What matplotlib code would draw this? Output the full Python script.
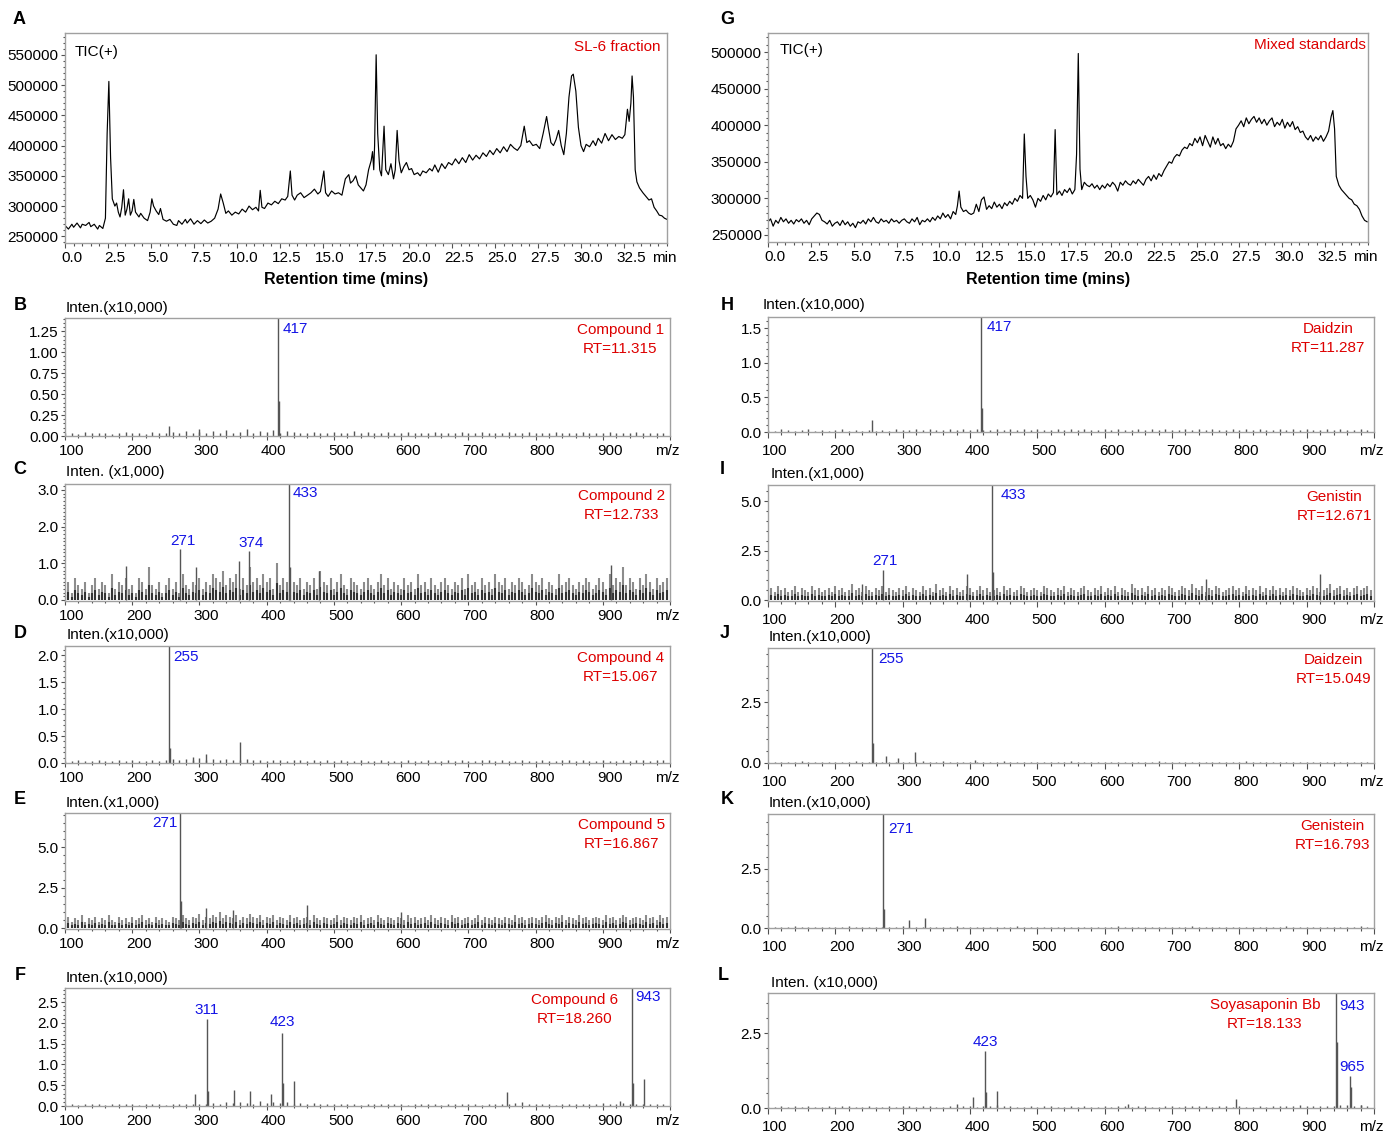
import numpy as np
import matplotlib
matplotlib.use("Agg")
import matplotlib.pyplot as plt
import matplotlib.transforms as mtransforms
from matplotlib.ticker import MultipleLocator, FormatStrFormatter

plt.rcParams['font.family'] = ['Liberation Sans', 'DejaVu Sans']

RED = '#dd0000'
BLUE = '#1414e6'
GREY = '#555555'

# ---- TIC, SL-6 fraction (x1000 counts) ----
time_a = [0.0, 0.2, 0.4, 0.5, 0.7, 0.9, 1.0, 1.2, 1.4, 1.5,
          1.7, 1.9, 2.0, 2.2, 2.35, 2.45, 2.55, 2.65, 2.75, 2.9,
          3.0, 3.1, 3.2, 3.3, 3.4, 3.5, 3.6, 3.7, 3.8, 3.9,
          4.0, 4.1, 4.3, 4.4, 4.6, 4.8, 4.95, 5.05, 5.15, 5.3,
          5.45, 5.55, 5.7, 5.9, 6.1, 6.3, 6.5, 6.6, 6.8, 7.0,
          7.1, 7.3, 7.5, 7.7, 7.9, 8.1, 8.3, 8.5, 8.7, 8.9,
          9.05, 9.2, 9.35, 9.5, 9.7, 9.9, 10.1, 10.3, 10.5, 10.7,
          10.9, 11.1, 11.25, 11.35, 11.45, 11.6, 11.8, 12.0, 12.2, 12.4,
          12.6, 12.8, 12.95, 13.1, 13.2, 13.35, 13.5, 13.7, 13.9, 14.1,
          14.3, 14.5, 14.7, 14.85, 15.05, 15.15, 15.3, 15.5, 15.7, 15.9,
          16.1, 16.3, 16.5, 16.6, 16.75, 16.9, 17.05, 17.2, 17.35, 17.5,
          17.65, 17.8, 17.88, 17.95, 18.0, 18.09, 18.18, 18.3, 18.4, 18.55,
          18.65, 18.8, 18.95, 19.1, 19.2, 19.31, 19.42, 19.55, 19.7, 19.85,
          20.0, 20.15, 20.3, 20.5, 20.65, 20.8, 21.0, 21.2, 21.35, 21.5,
          21.7, 21.9, 22.1, 22.3, 22.5, 22.7, 22.9, 23.1, 23.3, 23.5,
          23.7, 23.9, 24.1, 24.3, 24.5, 24.7, 24.9, 25.1, 25.3, 25.5,
          25.7, 25.9, 26.1, 26.3, 26.5, 26.7, 26.85, 27.0, 27.2, 27.4,
          27.6, 27.8, 28.0, 28.1, 28.25, 28.4, 28.55, 28.7, 28.85, 29.0,
          29.15, 29.3, 29.45, 29.55, 29.7, 29.85, 30.0, 30.15, 30.3, 30.5,
          30.7, 30.85, 31.0, 31.2, 31.4, 31.6, 31.8, 32.0, 32.2, 32.4,
          32.55, 32.7, 32.8, 32.9, 32.97, 33.05, 33.15, 33.25, 33.4, 33.6,
          33.8, 33.95, 34.1, 34.25, 34.4, 34.55, 34.7, 34.85, 35.0]
tic_a = [268, 262, 270, 265, 272, 264, 270, 268, 273, 266,
         270, 262, 268, 263, 280, 420, 506, 380, 312, 300,
         305, 290, 282, 298, 327, 285, 295, 312, 285, 292,
         311, 290, 282, 288, 280, 276, 290, 312, 300, 292,
         286, 296, 278, 275, 278, 270, 268, 276, 270, 278,
         272, 279, 270, 276, 271, 277, 272, 275, 280, 295,
         320, 305, 288, 292, 285, 290, 287, 295, 290, 300,
         294, 298, 292, 326, 298, 296, 305, 302, 308, 304,
         312, 310, 316, 358, 318, 310, 318, 322, 314, 318,
         322, 328, 320, 324, 358, 322, 316, 325, 320, 322,
         318, 345, 352, 338, 342, 350, 335, 330, 325, 335,
         360, 375, 390, 360, 400, 550, 420, 360, 350, 432,
         360, 352, 370, 345, 360, 425, 375, 355, 365, 372,
         360, 362, 352, 355, 350, 358, 355, 362, 358, 368,
         356, 370, 362, 372, 368, 378, 370, 380, 372, 385,
         376, 384, 378, 388, 382, 392, 385, 395, 388, 398,
         390, 402, 396, 392, 400, 432, 405, 408, 400, 402,
         395, 420, 448, 430, 405, 400, 410, 425, 400, 385,
         420, 480, 515, 518, 490, 430, 400, 390, 402, 398,
         408, 400, 412, 404, 420, 408, 418, 410, 415, 412,
         418, 460, 440, 470, 515, 480, 360, 340, 330, 322,
         315, 310, 312, 298, 292, 285, 284, 280, 278]

# ---- TIC, mixed standards (x1000 counts) ----
time_g = [0.0, 0.15, 0.3, 0.45, 0.6, 0.75, 0.9, 1.05, 1.2, 1.35,
          1.5, 1.65, 1.8, 1.95, 2.1, 2.25, 2.4, 2.55, 2.7, 2.85,
          3.0, 3.15, 3.3, 3.45, 3.6, 3.75, 3.9, 4.05, 4.2, 4.35,
          4.5, 4.65, 4.8, 4.95, 5.1, 5.25, 5.4, 5.55, 5.7, 5.85,
          6.0, 6.15, 6.3, 6.45, 6.6, 6.75, 6.9, 7.05, 7.2, 7.35,
          7.5, 7.65, 7.8, 7.95, 8.1, 8.25, 8.4, 8.55, 8.7, 8.85,
          9.0, 9.15, 9.3, 9.45, 9.6, 9.75, 9.9, 10.05, 10.2, 10.35,
          10.5, 10.65, 10.8, 10.95, 11.05, 11.15, 11.25, 11.4, 11.55, 11.7,
          11.85, 12.0, 12.15, 12.3, 12.45, 12.6, 12.75, 12.9, 13.05, 13.2,
          13.35, 13.5, 13.65, 13.8, 13.95, 14.1, 14.25, 14.4, 14.55, 14.7,
          14.85, 14.95, 15.05, 15.15, 15.3, 15.45, 15.6, 15.75, 15.9, 16.05,
          16.2, 16.35, 16.5, 16.65, 16.75, 16.85, 17.0, 17.15, 17.3, 17.45,
          17.6, 17.75, 17.9, 18.0, 18.1, 18.2, 18.3, 18.45, 18.6, 18.75,
          18.9, 19.05, 19.2, 19.35, 19.5, 19.65, 19.8, 19.95, 20.1, 20.25,
          20.4, 20.55, 20.7, 20.85, 21.0, 21.15, 21.3, 21.45, 21.6, 21.75,
          21.9, 22.05, 22.2, 22.35, 22.5, 22.65, 22.8, 22.95, 23.1, 23.25,
          23.4, 23.55, 23.7, 23.85, 24.0, 24.15, 24.3, 24.45, 24.6, 24.75,
          24.9, 25.05, 25.2, 25.35, 25.5, 25.65, 25.8, 25.95, 26.1, 26.25,
          26.4, 26.55, 26.7, 26.85, 27.0, 27.15, 27.3, 27.45, 27.6, 27.75,
          27.9, 28.05, 28.2, 28.35, 28.5, 28.65, 28.8, 28.95, 29.1, 29.25,
          29.4, 29.55, 29.7, 29.85, 30.0, 30.15, 30.3, 30.45, 30.6, 30.75,
          30.9, 31.05, 31.2, 31.35, 31.5, 31.65, 31.8, 31.95, 32.1, 32.25,
          32.4, 32.55, 32.7, 32.85, 32.95, 33.05, 33.15, 33.3, 33.45, 33.6,
          33.75, 33.9, 34.05, 34.2, 34.35, 34.5, 34.65, 34.8, 34.95]
tic_g = [268, 272, 262, 270, 266, 274, 268, 272, 266, 270,
         265, 271, 268, 272, 266, 270, 264, 272, 276, 280,
         278, 270, 268, 265, 270, 262, 266, 268, 263, 270,
         264, 268, 262, 266, 260, 268, 266, 270, 265, 272,
         268, 274, 268, 266, 272, 268, 270, 266, 272, 268,
         270, 266, 270, 272, 268, 266, 272, 268, 274, 264,
         270, 268, 272, 268, 274, 270, 276, 272, 280, 274,
         278, 272, 282, 278, 290, 310, 288, 282, 284, 280,
         278, 280, 292, 282, 298, 302, 285, 290, 286, 295,
         288, 292, 286, 294, 290, 296, 292, 300, 296, 304,
         300, 388, 330, 300, 304, 298, 288, 300, 296, 304,
         298, 306, 302, 308, 394, 305, 310, 304, 312, 308,
         314, 306, 312, 360, 498, 340, 312, 322, 318, 316,
         320, 314, 318, 312, 318, 314, 320, 316, 322, 318,
         310, 322, 318, 324, 320, 318, 324, 320, 326, 322,
         318, 326, 330, 324, 332, 326, 334, 330, 338, 344,
         350, 348, 356, 360, 358, 366, 370, 368, 375, 372,
         382, 376, 384, 372, 386, 378, 370, 384, 374, 382,
         372, 375, 368, 374, 370, 378, 395, 400, 406, 398,
         410, 402, 408, 412, 404, 410, 402, 408, 400, 406,
         410, 398, 404, 400, 408, 396, 404, 398, 405, 394,
         398, 390, 392, 384, 380, 386, 378, 384, 380, 386,
         378, 384, 392, 412, 420, 395, 330, 318, 312, 308,
         304, 300, 298, 292, 290, 285, 276, 270, 268]

# ---- MS spectra: noise floor (dense: tenths every 5 m/z; sparse: hundredths every 10 m/z) ----
noise_b = [3, 4, 2, 5, 3, 4, 3, 2, 4, 5, 3, 4, 2, 5, 4, 3, 5, 4, 6, 3,
           5, 4, 6, 3, 7, 4, 5, 8, 4, 6, 5, 7, 4, 6, 5, 3, 4, 5, 3, 4,
           5, 3, 4, 6, 3, 5, 4, 3, 5, 4, 3, 5, 4, 3, 4, 5, 3, 4, 3, 5,
           4, 3, 5, 4, 3, 4, 5, 3, 4, 5, 3, 4, 3, 5, 4, 3, 4, 5, 3, 4,
           3, 5, 4, 3, 4, 5, 3, 4, 3, 4]
noise_c = [3, 5, 2, 6, 4, 3, 5, 2, 4, 6, 3, 5, 4, 2, 7, 3, 5, 4, 6, 3,
           4, 2, 6, 5, 3, 9, 4, 3, 5, 2, 4, 6, 3, 5, 2, 7, 4, 3, 5, 4,
           6, 3, 5, 4, 7, 6, 5, 8, 4, 6, 5, 7, 3, 6, 4, 9, 5, 6, 4, 7,
           5, 6, 3, 10, 4, 6, 5, 3, 5, 4, 6, 3, 5, 4, 6, 3, 8, 5, 4, 6,
           3, 5, 7, 4, 3, 6, 5, 4, 3, 5, 6, 4, 3, 5, 7, 4, 6, 3, 5, 4,
           3, 6, 4, 5, 3, 7, 4, 5, 3, 6, 4, 3, 5, 6, 4, 3, 5, 4, 6, 3,
           7, 4, 5, 3, 6, 4, 5, 3, 7, 5, 4, 6, 3, 5, 4, 6, 5, 3, 4, 7,
           5, 4, 6, 3, 5, 4, 3, 7, 4, 5, 6, 4, 3, 5, 4, 6, 5, 3, 4, 6,
           5, 3, 7, 4, 6, 5, 9, 4, 6, 5, 3, 6, 4, 7, 5, 3, 6, 4, 5, 6]
noise_d = [4, 3, 5, 4, 3, 5, 4, 3, 6, 4, 5, 3, 4, 6, 4, 5, 7, 5, 8, 6,
           9, 6, 8, 5, 7, 6, 5, 8, 6, 5, 4, 6, 5, 4, 6, 5, 4, 5, 3, 5,
           4, 5, 3, 4, 5, 4, 3, 5, 4, 3, 4, 5, 3, 4, 6, 4, 3, 5, 4, 5,
           3, 4, 5, 6, 4, 5, 3, 4, 5, 4, 3, 5, 4, 3, 5, 6, 4, 5, 4, 3,
           5, 4, 3, 5, 4, 6, 5, 4, 5, 6]
noise_e = [5, 7, 4, 6, 5, 8, 4, 6, 5, 7, 4, 6, 5, 8, 5, 4, 7, 5, 6, 4,
           7, 5, 6, 8, 5, 6, 4, 7, 5, 6, 5, 4, 7, 6, 5, 8, 6, 5, 7, 6,
           9, 5, 7, 6, 8, 7, 10, 6, 8, 7, 6, 8, 5, 7, 6, 9, 7, 6, 8, 5,
           7, 6, 8, 5, 7, 6, 5, 8, 6, 7, 5, 6, 7, 5, 8, 6, 5, 7, 6, 5,
           6, 8, 5, 7, 6, 5, 7, 6, 8, 5, 6, 7, 5, 8, 6, 5, 7, 6, 5, 7,
           6, 5, 8, 6, 7, 5, 6, 7, 5, 8, 6, 5, 7, 6, 5, 8, 6, 7, 5, 6,
           7, 5, 6, 8, 5, 7, 6, 5, 7, 6, 5, 7, 6, 5, 8, 6, 7, 5, 6, 7,
           6, 5, 7, 8, 6, 5, 7, 6, 8, 5, 7, 6, 5, 8, 6, 7, 5, 6, 7, 6,
           5, 8, 6, 7, 5, 6, 8, 7, 5, 6, 7, 6, 5, 8, 6, 7, 5, 8, 6, 7]
noise_f = [4, 5, 3, 6, 4, 5, 3, 4, 6, 5, 4, 3, 5, 4, 6, 3, 5, 4, 5, 6,
           4, 6, 8, 5, 9, 7, 10, 8, 6, 12, 8, 10, 7, 9, 6, 8, 5, 7, 6, 5,
           4, 6, 5, 4, 3, 5, 4, 6, 5, 4, 5, 3, 4, 6, 5, 4, 3, 5, 6, 4,
           5, 4, 3, 5, 4, 6, 5, 7, 9, 6, 5, 4, 6, 3, 5, 4, 6, 5, 4, 5,
           7, 5, 6, 8, 5, 6, 4, 6, 5, 4]
noise_h = [3, 2, 4, 3, 2, 3, 4, 2, 3, 2, 3, 4, 2, 3, 2, 3, 2, 3, 2, 4,
           3, 3, 4, 3, 4, 3, 3, 4, 3, 4, 3, 4, 3, 3, 4, 3, 4, 3, 4, 3,
           4, 3, 3, 4, 3, 4, 3, 4, 3, 3, 4, 3, 4, 3, 3, 4, 3, 4, 3, 4,
           3, 3, 4, 3, 4, 3, 4, 3, 3, 4, 3, 4, 3, 4, 3, 3, 4, 3, 4, 3,
           4, 3, 3, 4, 3, 4, 3, 3, 4, 3]
noise_i = [5, 6, 4, 7, 5, 6, 4, 5, 7, 4, 6, 5, 4, 7, 5, 6, 4, 5, 6, 4,
           7, 5, 6, 4, 5, 8, 5, 6, 4, 7, 5, 4, 6, 5, 7, 4, 6, 5, 4, 6,
           5, 7, 4, 6, 5, 4, 7, 5, 6, 4, 8, 5, 6, 4, 7, 5, 6, 4, 5, 7,
           6, 4, 5, 7, 5, 6, 4, 5, 6, 4, 7, 5, 6, 4, 5, 7, 6, 4, 5, 6,
           5, 4, 7, 6, 5, 4, 6, 5, 7, 4, 6, 5, 4, 6, 7, 5, 4, 6, 5, 7,
           4, 6, 5, 7, 4, 6, 5, 4, 8, 6, 5, 6, 4, 7, 5, 6, 4, 6, 5, 7,
           6, 4, 5, 7, 6, 5, 8, 6, 5, 7, 4, 6, 5, 7, 6, 4, 5, 6, 7, 5,
           6, 4, 7, 5, 6, 5, 7, 4, 6, 5, 7, 5, 6, 4, 6, 5, 7, 6, 5, 4,
           6, 5, 7, 6, 4, 5, 6, 8, 5, 6, 7, 5, 6, 4, 6, 7, 5, 6, 7, 5]
noise_j = [5, 4, 6, 5, 4, 7, 5, 6, 4, 5, 6, 4, 5, 7, 5, 6, 4, 5, 6, 5,
           4, 6, 5, 7, 5, 6, 8, 6, 5, 4, 6, 5, 4, 6, 5, 7, 5, 4, 6, 5,
           4, 5, 6, 4, 5, 7, 5, 6, 4, 5, 6, 5, 4, 6, 5, 4, 6, 5, 7, 5,
           4, 6, 5, 4, 5, 6, 4, 5, 6, 4, 5, 7, 5, 4, 6, 5, 4, 6, 5, 4,
           6, 5, 4, 5, 6, 4, 5, 6, 5, 4]
noise_k = [5, 6, 4, 5, 7, 5, 4, 6, 5, 4, 6, 5, 7, 4, 5, 6, 5, 4, 6, 5,
           7, 5, 4, 6, 5, 6, 4, 5, 7, 5, 4, 6, 5, 4, 6, 5, 4, 7, 5, 6,
           4, 5, 6, 4, 5, 6, 5, 4, 6, 5, 4, 5, 7, 5, 4, 6, 5, 4, 6, 5,
           4, 6, 5, 7, 4, 5, 6, 4, 5, 6, 5, 4, 6, 5, 4, 6, 5, 7, 4, 5,
           6, 5, 4, 6, 5, 4, 6, 5, 7, 5]
noise_l = [5, 4, 6, 5, 7, 4, 6, 5, 4, 6, 5, 7, 6, 5, 4, 6, 5, 4, 7, 5,
           6, 8, 5, 7, 6, 5, 4, 6, 5, 7, 6, 5, 8, 6, 10, 7, 6, 5, 4, 6,
           5, 7, 6, 5, 4, 6, 5, 7, 5, 4, 6, 5, 8, 6, 5, 7, 6, 4, 5, 6,
           7, 5, 6, 8, 7, 6, 5, 6, 7, 5, 6, 5, 4, 6, 5, 7, 6, 8, 7, 9,
           6, 8, 7, 6, 8, 10, 9, 7, 10, 8]

# ---- MS spectra: resolved peaks (m/z, intensity in the panel's unit) ----
mz_b = [255, 300, 417, 418]
int_b = [0.12, 0.08, 1.41, 0.42]
mz_c = [190, 271, 295, 359, 374, 433, 434, 478, 912]
int_c = [0.92, 1.38, 0.90, 1.05, 1.33, 3.16, 0.90, 0.80, 0.95]
mz_d = [255, 256, 290, 310, 360]
int_d = [2.17, 0.28, 0.12, 0.16, 0.39]
mz_e = [271, 272, 310, 350, 460, 600]
int_e = [7.10, 1.65, 1.25, 1.10, 1.40, 1.00]
mz_f = [294, 311, 312, 352, 375, 406, 423, 424, 441, 758, 925, 943, 945, 961]
int_f = [0.30, 2.10, 0.35, 0.38, 0.35, 0.28, 1.75, 0.55, 0.59, 0.33, 0.12, 2.84, 0.55, 0.64]
mz_h = [255, 417, 418]
int_h = [0.18, 1.66, 0.34]
mz_i = [240, 271, 395, 433, 434, 750, 920]
int_i = [0.80, 1.50, 1.30, 5.82, 1.40, 1.05, 1.30]
mz_j = [255, 256, 275, 293, 318, 407]
int_j = [4.75, 0.83, 0.30, 0.20, 0.46, 0.12]
mz_k = [271, 272, 310, 333]
int_k = [4.83, 0.79, 0.33, 0.43]
mz_l = [380, 405, 423, 424, 440, 635, 795, 943, 945, 965, 966, 980]
int_l = [0.15, 0.36, 1.92, 0.55, 0.58, 0.15, 0.30, 3.85, 2.20, 1.07, 0.70, 0.10]

x_ticks_min = [0.0, 2.5, 5.0, 7.5, 10.0, 12.5, 15.0, 17.5, 20.0, 22.5, 25.0, 27.5, 30.0, 32.5]
x_ticks_mz = [100, 200, 300, 400, 500, 600, 700, 800, 900]

W, H = 1385, 1135
fig = plt.figure(figsize=(W / 100, H / 100), dpi=100)


def add_ax(l, t, r, b):
    return fig.add_axes([l / W, 1 - b / H, (r - l) / W, (b - t) / H])


def frame(ax, tick_len, pad):
    for s in ax.spines.values():
        s.set_color('#a0a0a0')
        s.set_linewidth(1.0)
    ax.tick_params(which='both', color='#505050', width=0.8, labelsize=11, direction='out')
    ax.tick_params(which='major', length=tick_len)
    ax.tick_params(which='minor', length=tick_len * 0.55)
    ax.tick_params(axis='x', pad=pad)
    ax.tick_params(axis='y', pad=1.5, length=3)
    ax.tick_params(axis='y', which='minor', length=1.8)
    off = mtransforms.ScaledTranslation(7 / 100, 0, fig.dpi_scale_trans)
    for lab in ax.get_xticklabels():
        lab.set_transform(lab.get_transform() + off)


def end_label(ax, text, tick_len, pad):
    ax.annotate(text, xy=(1, 0), xycoords='axes fraction', xytext=(-2, -(tick_len + pad)),
                textcoords='offset points', ha='center', va='top', fontsize=11)


def letter(x, y, s):
    fig.text(x / W, 1 - y / H, s, ha='center', va='center', fontsize=13, fontweight='bold')


def chromatogram(box, time, tic, ylim, tag, tag_xy, sample, sample_dx, sample_dy, tic_dx, tic_dy):
    ax = add_ax(*box)
    ax.plot(time, np.array(tic) * 1000, color='black', lw=0.85)
    ax.set_xlim(0, 35)
    ax.set_ylim(*ylim)
    ax.set_xticks(x_ticks_min)
    ax.set_xticklabels([f'{v:.1f}' for v in x_ticks_min])
    ax.xaxis.set_minor_locator(MultipleLocator(0.5))
    ax.yaxis.set_major_locator(MultipleLocator(50000))
    ax.yaxis.set_minor_locator(MultipleLocator(10000))
    ax.yaxis.set_major_formatter(FormatStrFormatter('%d'))
    frame(ax, 3.5, 2.5)
    end_label(ax, 'min', 3.5, 2.5)
    ax.text(0.467, -37 / (box[3] - box[1]), 'Retention time (mins)', transform=ax.transAxes,
            ha='center', va='center', fontsize=11.5, fontweight='bold')
    ax.annotate('TIC(+)', xy=(0, 1), xycoords='axes fraction', xytext=(tic_dx, tic_dy),
                textcoords='offset pixels', ha='left', va='top', fontsize=11)
    ax.annotate(sample, xy=(1, 1), xycoords='axes fraction', xytext=(sample_dx, sample_dy),
                textcoords='offset pixels', ha='right', va='top', fontsize=11, color=RED)
    letter(*tag_xy, tag)
    return ax


def spectrum(box, right_col, noise, dense, mz, inten, ylim, ystep, yminor, yfmt,
             tag, tag_xy, inten_label, inten_xy, title, title_x, labels):
    ax = add_ax(*box)
    if dense:
        nx = 100 + 5 * np.arange(len(noise))
        ny = np.array(noise) * 0.1
        ax.vlines(nx, 0, ny, color='#8c8c8c', lw=1.5)
        ax.vlines(nx, 0, ny * 0.45, color='#333333', lw=1.5)
    else:
        nx = 100 + 10 * np.arange(len(noise))
        ny = np.array(noise) * 0.01
        ax.vlines(nx, 0, ny, color='#555555', lw=1.0)
    ax.vlines(mz, 0, inten, color=GREY, lw=1.0)
    ax.set_xlim(100, 1000)
    ax.set_ylim(*ylim)
    ax.set_xticks(x_ticks_mz + [1000])
    ax.set_xticklabels([str(v) for v in x_ticks_mz] + [''])
    ax.xaxis.set_minor_locator(MultipleLocator(20))
    ax.yaxis.set_major_locator(MultipleLocator(ystep))
    ax.yaxis.set_minor_locator(MultipleLocator(yminor))
    ax.yaxis.set_major_formatter(FormatStrFormatter(yfmt))
    tick_len, pad = (4.5, 4.0) if right_col else (3.0, 2.5)
    frame(ax, tick_len, pad)
    end_label(ax, 'm/z', tick_len, pad)
    letter(*tag_xy, tag)
    fig.text(inten_xy[0] / W, 1 - inten_xy[1] / H, inten_label, ha='left', va='center', fontsize=11)
    ax.annotate(title, xy=(title_x, 1), xycoords='axes fraction', xytext=(0, -5),
                textcoords='offset pixels', ha='right', va='top', fontsize=11,
                color=RED, multialignment='center', linespacing=1.42)
    for m, mode, dx, dy in labels:
        if mode == 'top':
            ax.annotate(str(m), xy=(m, ylim[1]), xytext=(dx, dy), textcoords='offset pixels',
                        ha='left' if dx > 0 else 'right', va='top', fontsize=11, color=BLUE)
        else:
            h = inten[mz.index(m)]
            ax.annotate(str(m), xy=(m, h), xytext=(dx, dy), textcoords='offset pixels',
                        ha='center', va='bottom', fontsize=11, color=BLUE)
    return ax


# Left column
chromatogram((65, 33, 667, 243), time_a, tic_a, (239000, 586000), 'A', (19, 20),
             'SL-6 fraction', -7, -7, 10, -12)
spectrum((65, 318, 670, 436), False, noise_b, False, mz_b, int_b, (0, 1.41), 0.25, 0.05, '%.2f',
         'B', (20, 305), 'Inten.(x10,000)', (66, 308), 'Compound 1\nRT=11.315', 0.990,
         [(417, 'top', 5, -4)])
spectrum((65, 484, 670, 601), False, noise_c, True, mz_c, int_c, (-0.03, 3.16), 1.0, 0.1, '%.1f',
         'C', (20, 470), 'Inten. (x1,000)', (66, 472), 'Compound 2\nRT=12.733', 0.992,
         [(433, 'top', 4, -2), (271, 'above', 3, 1), (374, 'above', 2, 1)])
spectrum((65, 646, 670, 763), False, noise_d, False, mz_d, int_d, (0, 2.17), 0.5, 0.1, '%.1f',
         'D', (20, 633), 'Inten.(x10,000)', (67, 635), 'Compound 4\nRT=15.067', 0.990,
         [(255, 'top', 4, -4)])
spectrum((65, 813, 670, 929), False, noise_e, True, mz_e, int_e, (-0.05, 7.1), 2.5, 0.5, '%.1f',
         'E', (20, 800), 'Inten.(x1,000)', (66, 803), 'Compound 5\nRT=16.867', 0.992,
         [(271, 'top', -2, -3)])
spectrum((65, 988, 670, 1106), False, noise_f, False, mz_f, int_f, (0, 2.84), 0.5, 0.1, '%.1f',
         'F', (20, 975), 'Inten.(x10,000)', (66, 978), 'Compound 6\nRT=18.260', 0.914,
         [(943, 'top', 4, -2), (311, 'above', 0, 2), (423, 'above', 0, 4)])

# Right column
chromatogram((768, 33, 1368, 242), time_g, tic_g, (240400, 526000), 'G', (727, 20),
             'Mixed standards', -2, -5, 12, -10)
spectrum((768, 317, 1374, 432), True, noise_h, False, mz_h, int_h, (0, 1.66), 0.5, 0.1, '%.1f',
         'H', (727, 306), 'Inten.(x10,000)', (763, 305), 'Daidzin\nRT=11.287', 0.985,
         [(417, 'top', 5, -3)])
spectrum((768, 485, 1374, 601), True, noise_i, True, mz_i, int_i, (-0.05, 5.82), 2.5, 0.5, '%.1f',
         'I', (722, 470), 'Inten.(x1,000)', (771, 474), 'Genistin\nRT=12.671', 0.997,
         [(433, 'top', 8, -3), (271, 'above', 2, 2)])
spectrum((768, 648, 1374, 763), True, noise_j, False, mz_j, int_j, (0, 4.75), 2.5, 0.5, '%.1f',
         'J', (725, 633), 'Inten.(x10,000)', (769, 637), 'Daidzein\nRT=15.049', 0.995,
         [(255, 'top', 6, -4)])
spectrum((768, 814, 1374, 928), True, noise_k, False, mz_k, int_k, (0, 4.83), 2.5, 0.5, '%.1f',
         'K', (727, 800), 'Inten.(x10,000)', (769, 803), 'Genistein\nRT=16.793', 0.993,
         [(271, 'top', 5, -8)])
spectrum((768, 993, 1374, 1108), True, noise_l, False, mz_l, int_l, (0, 3.85), 2.5, 0.5, '%.1f',
         'L', (723, 975), 'Inten. (x10,000)', (771, 983), 'Soyasaponin Bb\nRT=18.133', 0.911,
         [(943, 'top', 4, -6), (423, 'above', 0, 2), (965, 'above', 2, 2)])

fig.savefig('out.png', dpi=100)
